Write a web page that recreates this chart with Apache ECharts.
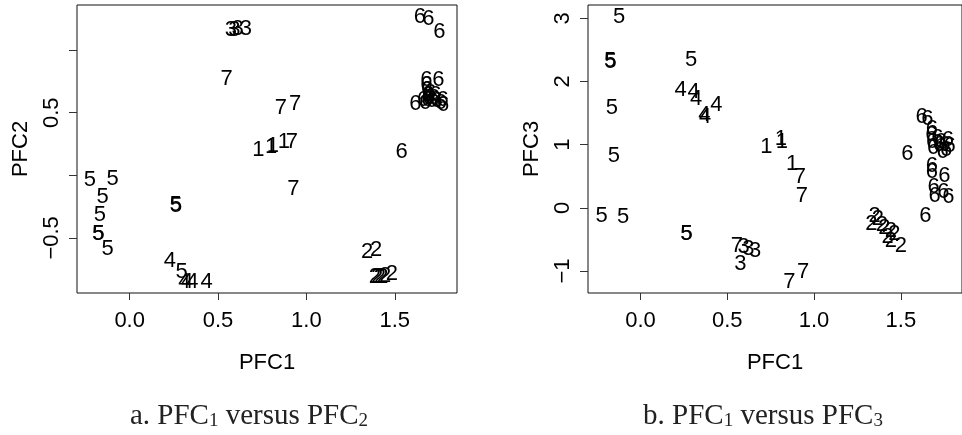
<!DOCTYPE html>
<html>
<head>
<meta charset="utf-8">
<script src="https://cdn.jsdelivr.net/npm/echarts@6/dist/echarts.min.js"></script>
<style>
html,body{margin:0;padding:0;background:#fff;}
#c{width:962px;height:435px;}
</style>
</head>
<body>
<div id="c"></div>
<script>
// ---- Panel a: PFC1 versus PFC2 ----
var classA = ['1','1','1','1',
  '2','2','2','2','2','2','2','2',
  '3','3','3','3',
  '4','4','4','4','4',
  '5','5','5','5','5','5','5','5','5','5',
  '6','6','6','6','6','6','6','6','6','6','6','6','6','6','6','6','6','6','6','6','6','6',
  '7','7','7','7','7'];
var pfc1A = [0.728,0.800,0.810,0.873,
  1.343,1.394,1.388,1.400,1.416,1.430,1.445,1.483,
  0.573,0.592,0.611,0.658,
  0.228,0.310,0.325,0.355,0.436,
  -0.225,-0.096,-0.153,-0.168,-0.178,-0.176,-0.125,0.260,0.263,0.294,
  1.538,1.642,1.690,1.752,1.617,1.747,1.660,1.679,1.679,1.683,1.688,1.773,1.671,1.690,1.685,1.709,1.730,1.737,1.760,1.770,1.720,1.700,
  0.549,0.855,0.936,0.917,0.926];
var pfc2A = [0.200,0.226,0.232,0.266,
  -0.616,-0.600,-0.812,-0.815,-0.812,-0.808,-0.805,-0.790,
  1.160,1.160,1.165,1.170,
  -0.680,-0.855,-0.855,-0.850,-0.850,
  -0.040,-0.027,-0.173,-0.320,-0.466,-0.470,-0.587,-0.240,-0.245,-0.773,
  0.186,1.266,1.245,1.147,0.568,0.760,0.600,0.760,0.720,0.680,0.640,0.560,0.580,0.620,0.600,0.590,0.640,0.590,0.580,0.600,0.620,0.660,
  0.773,0.541,0.568,0.266,-0.107];

// ---- Panel b: PFC1 versus PFC3 ----
var classB = ['1','1','1','1',
  '2','2','2','2','2','2','2','2','2','2',
  '3','3','3','3',
  '4','4','4','4','4','4',
  '5','5','5','5','5','5','5','5','5','5',
  '6','6','6','6','6','6','6','6','6','6','6','6','6','6','6','6','6','6','6','6','6','6','6',
  '7','7','7','7','7'];
var pfc1B = [0.726,0.809,0.815,0.873,
  1.330,1.349,1.367,1.390,1.405,1.443,1.462,1.424,1.443,1.500,
  0.594,0.622,0.660,0.575,
  0.232,0.307,0.320,0.368,0.372,0.437,
  -0.123,-0.174,-0.172,-0.164,-0.153,-0.223,-0.100,0.292,0.264,0.266,
  1.537,1.619,1.652,1.679,1.675,1.680,1.685,1.710,1.730,1.750,1.760,1.770,1.780,1.740,1.720,1.679,1.679,1.751,1.688,1.694,1.745,1.773,1.641,
  0.556,0.858,0.937,0.918,0.930];
var pfc3B = [0.960,1.093,1.040,0.697,
  -0.254,-0.122,-0.174,-0.270,-0.320,-0.360,-0.420,-0.465,-0.520,-0.597,
  -0.624,-0.650,-0.677,-0.887,
  1.859,1.832,1.727,1.463,1.440,1.621,
  3.020,2.320,2.310,1.585,0.829,-0.122,-0.149,2.334,-0.412,-0.420,
  0.856,1.435,1.404,1.252,1.150,1.050,0.950,1.100,1.050,1.000,0.920,1.080,0.980,0.880,1.000,0.670,0.564,0.512,0.326,0.195,0.247,0.168,-0.122,
  -0.597,-1.179,-1.020,0.485,0.195];

// ---- Axis ticks ----
var xTicks = [0, 0.5, 1.0, 1.5];
var yTicksA = [-0.5, 0, 0.5, 1.0];
var yLabelsA = [-0.5, 0.5];
var yTicksB = [-1, 0, 1, 2, 3];

var SANS = 'Liberation Sans, Arial, Helvetica, sans-serif';
var SERIF = 'Liberation Serif, Times New Roman, serif';

function fmtMinus(s){ return s.replace('-', '\u2212'); }

function xAxisCfg(gi){
  return {
    type:'value', gridIndex:gi, min: gi===0 ? -0.298 : -0.302, max:1.852,
    name:'PFC1', nameLocation:'middle', nameGap:59,
    nameTextStyle:{color:'#000', fontSize:22, fontFamily:SANS},
    axisLine:{show:false, onZero:false},
    splitLine:{show:false},
    axisTick:{show:true, inside:false, length:7, lineStyle:{color:'#333'}, customValues:xTicks},
    axisLabel:{show:true, margin:17, color:'#000', fontSize:22, fontFamily:SANS,
      customValues:xTicks, formatter:function(v){return fmtMinus(Number(v).toFixed(1));}}
  };
}

var chart = echarts.init(document.getElementById('c'), null, {renderer:'canvas'});

function seriesData(x, y, c){
  return x.map(function(v,i){ return [v, y[i], c[i]]; });
}

var labelCfg = {show:true, position:'inside', color:'#000', opacity:1, fontSize:22, fontFamily:SANS,
  formatter:function(p){return p.value[2];}};

var option = {
  animation:false,
  backgroundColor:'#fff',
  grid:[
    {left:77, top:5, width:380, height:288, show:true, borderColor:'#111', borderWidth:1, backgroundColor:'transparent'},
    {left:588, top:5, width:381, height:288, show:true, borderColor:'#111', borderWidth:1, backgroundColor:'transparent'}
  ],
  xAxis:[ xAxisCfg(0), xAxisCfg(1) ],
  yAxis:[
    {type:'value', gridIndex:0, min:-0.94, max:1.36,
      name:'PFC2', nameLocation:'middle', nameGap:45,
      nameTextStyle:{color:'#000', fontSize:22, fontFamily:SANS},
      axisLine:{show:false, onZero:false}, splitLine:{show:false},
      axisTick:{show:true, inside:false, length:8, lineStyle:{color:'#333'}, customValues:yTicksA},
      axisLabel:{show:true, rotate:90, margin:14, color:'#000', fontSize:22, fontFamily:SANS,
        customValues:yLabelsA, formatter:function(v){return fmtMinus(Number(v).toFixed(1));}}
    },
    {type:'value', gridIndex:1, min:-1.349, max:3.211,
      name:'PFC3', nameLocation:'middle', nameGap:45,
      nameTextStyle:{color:'#000', fontSize:22, fontFamily:SANS},
      axisLine:{show:false, onZero:false}, splitLine:{show:false},
      axisTick:{show:true, inside:false, length:8, lineStyle:{color:'#333'}, customValues:yTicksB},
      axisLabel:{show:true, rotate:90, margin:14, color:'#000', fontSize:22, fontFamily:SANS,
        customValues:yTicksB, formatter:function(v){return fmtMinus(String(Math.round(v)));}}
    }
  ],
  series:[
    {type:'scatter', xAxisIndex:0, yAxisIndex:0, symbolSize:1,
      itemStyle:{color:'rgba(0,0,0,0)', opacity:1}, label:labelCfg, emphasis:{disabled:true},
      data:seriesData(pfc1A, pfc2A, classA)},
    {type:'scatter', xAxisIndex:1, yAxisIndex:1, symbolSize:1,
      itemStyle:{color:'rgba(0,0,0,0)', opacity:1}, label:labelCfg, emphasis:{disabled:true},
      data:seriesData(pfc1B, pfc3B, classB)}
  ],
  graphic:[
    {type:'text', x:249, y:416, style:{
      text:'{m|a. PFC}{s|1}{m| versus PFC}{s|2}', align:'center', verticalAlign:'middle',
      rich:{m:{fontSize:29, fontFamily:SERIF, fill:'#222', lineHeight:30, verticalAlign:'middle'},
            s:{fontSize:19, fontFamily:SERIF, fill:'#222', lineHeight:12, verticalAlign:'bottom'}}}},
    {type:'text', x:763, y:416, style:{
      text:'{m|b. PFC}{s|1}{m| versus PFC}{s|3}', align:'center', verticalAlign:'middle',
      rich:{m:{fontSize:29, fontFamily:SERIF, fill:'#222', lineHeight:30, verticalAlign:'middle'},
            s:{fontSize:19, fontFamily:SERIF, fill:'#222', lineHeight:12, verticalAlign:'bottom'}}}}
  ]
};
chart.setOption(option);
</script>
</body>
</html>
